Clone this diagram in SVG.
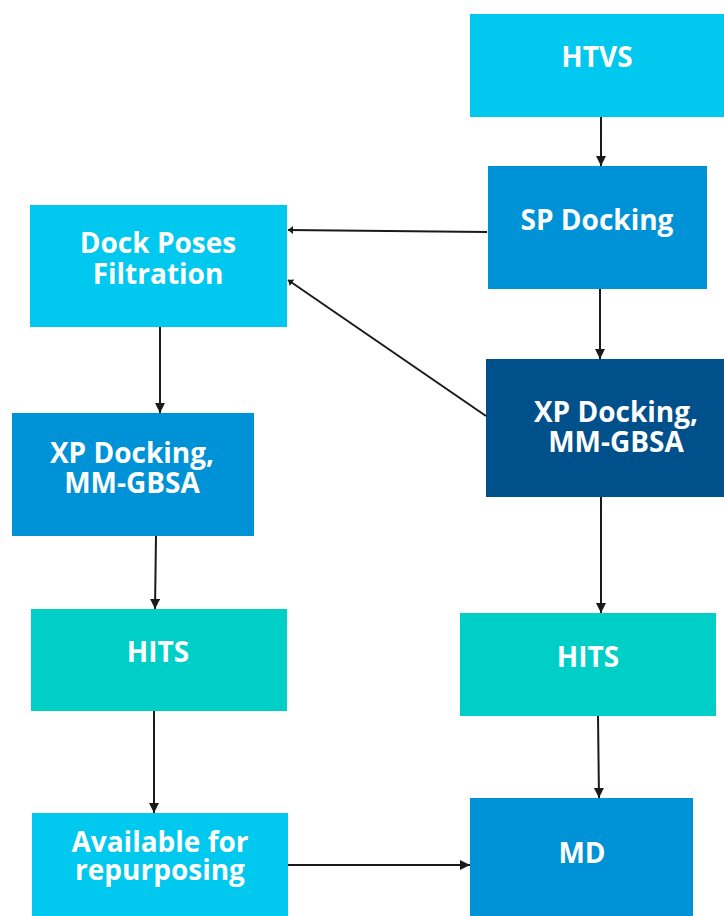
<svg xmlns="http://www.w3.org/2000/svg" width="724" height="916" viewBox="0 0 724 916">
<style>
.box{stroke:none}
.cyan{fill:#00C8EE}
.blue{fill:#0092D6}
.navy{fill:#00508C}
.teal{fill:#00CFC8}
.lbl{font-family:"Open Sans","Liberation Sans",sans-serif;font-weight:bold;font-size:28px;fill:#ffffff;text-anchor:middle}
.conn{stroke:#1a1a1a;stroke-width:2;fill:none}
</style>
<defs>
<marker id="arr" markerWidth="12" markerHeight="12" refX="10" refY="5" orient="auto" markerUnits="userSpaceOnUse">
<path d="M0,0 L10,5 L0,10 z" fill="#1a1a1a"/>
</marker>
<marker id="arrs" markerWidth="8" markerHeight="8" refX="5" refY="4" orient="auto" markerUnits="userSpaceOnUse">
<path d="M0,0 L5,4 L0,8 z" fill="#1a1a1a"/>
</marker>
</defs>
<g id="n-htvs"><rect class="box cyan" x="470" y="14" width="254" height="103"/><text class="lbl" x="597" y="67">HTVS</text></g>
<g id="n-sp"><rect class="box blue" x="488" y="166" width="219" height="123"/><text class="lbl" x="597" y="230">SP Docking</text></g>
<g id="n-dock"><rect class="box cyan" x="30" y="205" width="257" height="122"/><text class="lbl" x="158" y="253">Dock Poses</text><text class="lbl" x="158" y="284">Filtration</text></g>
<g id="n-xpl"><rect class="box blue" x="12" y="413" width="242" height="123"/><text class="lbl" x="132" y="463">XP Docking,</text><text class="lbl" x="132" y="493">MM-GBSA</text></g>
<g id="n-xpr"><rect class="box navy" x="486" y="359" width="238" height="138"/><text class="lbl" x="616" y="422">XP Docking,</text><text class="lbl" x="616" y="452">MM-GBSA</text></g>
<g id="n-hitsl"><rect class="box teal" x="31" y="609" width="256" height="102"/><text class="lbl" x="158" y="662">HITS</text></g>
<g id="n-hitsr"><rect class="box teal" x="460" y="613" width="256" height="103"/><text class="lbl" x="588" y="667">HITS</text></g>
<g id="n-avail"><rect class="box cyan" x="32" y="813" width="256" height="103"/><text class="lbl" x="160" y="852">Available for</text><text class="lbl" x="160" y="880">repurposing</text></g>
<g id="n-md"><rect class="box blue" x="470" y="798" width="223" height="118"/><text class="lbl" x="582" y="863">MD</text></g>
<g id="connectors">
<line class="conn" x1="601" y1="117" x2="601" y2="166" marker-end="url(#arr)"/>
<line class="conn" x1="487" y1="232" x2="288" y2="230" marker-end="url(#arrs)"/>
<line class="conn" x1="486" y1="416" x2="288" y2="280" marker-end="url(#arrs)"/>
<line class="conn" x1="600" y1="289" x2="600" y2="359" marker-end="url(#arr)"/>
<line class="conn" x1="160" y1="327" x2="160" y2="413" marker-end="url(#arr)"/>
<line class="conn" x1="156" y1="536" x2="155" y2="609" marker-end="url(#arr)"/>
<line class="conn" x1="154" y1="711" x2="154" y2="813" marker-end="url(#arr)"/>
<line class="conn" x1="601" y1="497" x2="601" y2="613" marker-end="url(#arr)"/>
<line class="conn" x1="598" y1="716" x2="599" y2="798" marker-end="url(#arr)"/>
<line class="conn" x1="288" y1="865" x2="470" y2="865" marker-end="url(#arr)"/>
</g>
</svg>
